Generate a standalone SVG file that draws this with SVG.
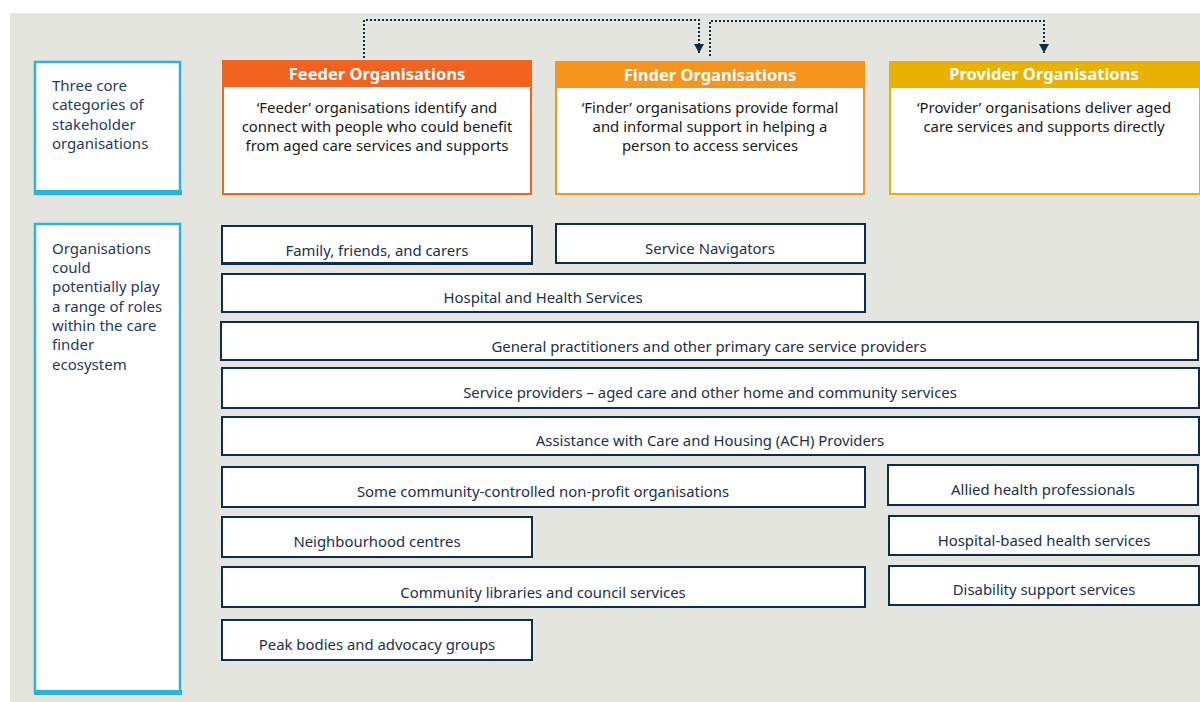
<svg xmlns="http://www.w3.org/2000/svg" width="1200" height="702" viewBox="0 0 1200 702">
<defs>
<style>
.bg{fill:#e5e5e0}
.lbox{fill:#ffffff;stroke:#2bb3de;stroke-width:2.5}
.lbar{fill:#2bb3de}
.ltxt{font-family:"Noto Sans","Open Sans",sans-serif;font-size:15px;fill:#1f3a5f}
.row{fill:#ffffff;stroke:#0e2c50;stroke-width:2}
.rtxt{font-family:"Noto Sans","Open Sans",sans-serif;font-size:14.9px;fill:#1c2f4d;text-anchor:middle}
.htxt{font-family:"Noto Sans","Open Sans",sans-serif;font-size:16.5px;font-weight:bold;fill:#ffffff;text-anchor:middle}
.btxt{font-family:"Noto Sans","Open Sans",sans-serif;font-size:14.9px;fill:#1a1a1a;text-anchor:middle}
.conn{fill:none;stroke:#0e2c50;stroke-width:2;stroke-dasharray:2 2}
</style>
<marker id="ah" markerWidth="10" markerHeight="10" refX="9" refY="5" orient="auto" markerUnits="userSpaceOnUse" viewBox="0 0 10 10">
<path d="M0,0 L9,5 L0,10 Z" fill="#0e2c50"/>
</marker>
</defs>
<rect x="10" y="13" width="1190" height="689" class="bg"/>

<g id="left-categories">
<rect x="35" y="62" width="145" height="132" class="lbox"/>
<rect x="34" y="190" width="148" height="5" class="lbar"/>
<text class="ltxt"><tspan x="52" y="91">Three core</tspan><tspan x="52" y="110">categories of</tspan><tspan x="52" y="130">stakeholder</tspan><tspan x="52" y="149">organisations</tspan></text>
</g>
<g id="left-roles">
<rect x="35" y="224" width="145" height="469" class="lbox"/>
<rect x="34" y="690" width="148" height="5" class="lbar"/>
<text class="ltxt"><tspan x="52" y="254">Organisations</tspan><tspan x="52" y="273">could</tspan><tspan x="52" y="292">potentially play</tspan><tspan x="52" y="312">a range of roles</tspan><tspan x="52" y="331">within the care</tspan><tspan x="52" y="350">finder</tspan><tspan x="52" y="370">ecosystem</tspan></text>
</g>

<g id="feeder">
<rect x="223" y="61" width="308" height="133" fill="#ffffff" stroke="#f26322" stroke-width="2"/>
<rect x="222" y="60" width="310" height="27" fill="#f26322"/>
<text class="htxt" x="377" y="80">Feeder Organisations</text>
<text class="btxt"><tspan x="377" y="113">‘Feeder’ organisations identify and</tspan><tspan x="377" y="132">connect with people who could benefit</tspan><tspan x="377" y="151">from aged care services and supports</tspan></text>
</g>
<g id="finder">
<rect x="556" y="62" width="308" height="132" fill="#ffffff" stroke="#f7941d" stroke-width="2"/>
<rect x="555" y="61" width="310" height="27" fill="#f7941d"/>
<text class="htxt" x="710" y="81">Finder Organisations</text>
<text class="btxt"><tspan x="710" y="113">‘Finder’ organisations provide formal</tspan><tspan x="710" y="132">and informal support in helping a</tspan><tspan x="710" y="151">person to access services</tspan></text>
</g>
<g id="provider">
<rect x="890" y="62" width="310" height="132" fill="#ffffff" stroke="#e9b200" stroke-width="2"/>
<rect x="889" y="61" width="311" height="27" fill="#e9b200"/>
<text class="htxt" x="1044" y="80">Provider Organisations</text>
<text class="btxt"><tspan x="1044" y="113">‘Provider’ organisations deliver aged</tspan><tspan x="1044" y="132">care services and supports directly</tspan></text>
</g>

<g id="connectors">
<path class="conn" d="M364,58 V20 H699 V53" marker-end="url(#ah)"/>
<path class="conn" d="M710,56 V21 H1044 V53" marker-end="url(#ah)"/>
</g>

<g id="family"><rect x="222" y="226" width="310" height="38" class="row"/><rect x="222" y="262" width="310" height="3" fill="#0e2c50"/><text class="rtxt" x="377" y="256">Family, friends, and carers</text></g>
<g id="navigators"><rect x="556" y="224" width="309" height="39" class="row"/><text class="rtxt" x="710" y="254">Service Navigators</text></g>
<g id="hhs"><rect x="222" y="274" width="643" height="38" class="row"/><text class="rtxt" x="543" y="303">Hospital and Health Services</text></g>
<g id="gp"><rect x="221" y="322" width="977" height="38" class="row"/><text class="rtxt" x="709" y="352">General practitioners and other primary care service providers</text></g>
<g id="service-providers"><rect x="222" y="368" width="977" height="40" class="row"/><text class="rtxt" x="710" y="398">Service providers – aged care and other home and community services</text></g>
<g id="ach"><rect x="222" y="417" width="977" height="38" class="row"/><text class="rtxt" x="710" y="446">Assistance with Care and Housing (ACH) Providers</text></g>
<g id="community-orgs"><rect x="222" y="467" width="643" height="40" class="row"/><text class="rtxt" x="543" y="497">Some community-controlled non-profit organisations</text></g>
<g id="allied"><rect x="888" y="465" width="310" height="40" class="row"/><text class="rtxt" x="1043" y="495">Allied health professionals</text></g>
<g id="neighbourhood"><rect x="222" y="517" width="310" height="40" class="row"/><text class="rtxt" x="377" y="547">Neighbourhood centres</text></g>
<g id="hospital-based"><rect x="889" y="516" width="310" height="39" class="row"/><text class="rtxt" x="1044" y="546">Hospital-based health services</text></g>
<g id="libraries"><rect x="222" y="567" width="643" height="40" class="row"/><text class="rtxt" x="543" y="598">Community libraries and council services</text></g>
<g id="disability"><rect x="889" y="566" width="310" height="39" class="row"/><text class="rtxt" x="1044" y="595">Disability support services</text></g>
<g id="peak"><rect x="222" y="620" width="310" height="40" class="row"/><text class="rtxt" x="377" y="650">Peak bodies and advocacy groups</text></g>
</svg>
